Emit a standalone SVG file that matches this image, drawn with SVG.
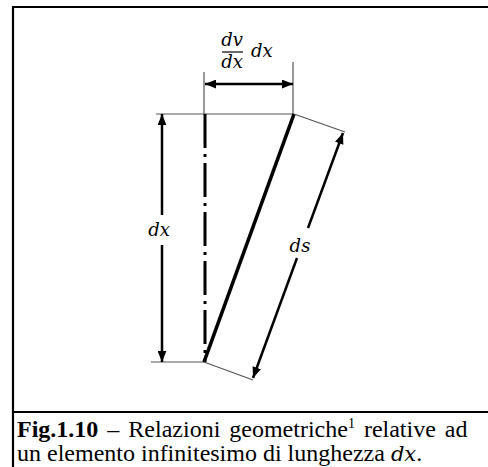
<svg xmlns="http://www.w3.org/2000/svg" width="488" height="467" viewBox="0 0 488 467">
<style>
.frame{stroke:#000;stroke-width:2.2;fill:none}
.thin{stroke:#555;stroke-width:1.2;fill:none}
.dim{stroke:#000;stroke-width:2.5;fill:none}
.axis{stroke:#000;stroke-width:3;stroke-dasharray:34 6 3 6;fill:none}
.bar{stroke:#000;stroke-width:3.6;fill:none}
.m{font-family:"DejaVu Serif",serif;font-style:italic;font-size:18px;fill:#000}
.cap{font-family:"Liberation Serif","Times New Roman",serif;font-size:24px;fill:#000}
</style>
<defs>
<marker id="ah" viewBox="0 0 10 8" refX="10" refY="4" markerWidth="11" markerHeight="9" markerUnits="userSpaceOnUse" orient="auto-start-reverse">
<path d="M0,0 L10,4 L0,8 z" fill="#000"/>
</marker>
</defs>
<rect width="488" height="467" fill="#fff"/>
<g id="frame">
<path class="frame" d="M13,467 V7 H488"/>
<path class="frame" d="M12,412 H488"/>
</g>
<g id="element">
<line class="thin" x1="156" y1="114" x2="294" y2="114"/>
<line class="thin" x1="151" y1="362" x2="205" y2="362"/>
<line class="axis" x1="205" y1="114" x2="205" y2="362"/>
<line class="bar" x1="294" y1="114" x2="204" y2="362"/>
</g>
<g id="connectors">
<line class="thin" x1="204" y1="72" x2="204" y2="114"/>
<line class="thin" x1="293" y1="62" x2="293" y2="114"/>
<line class="thin" x1="294" y1="114" x2="345" y2="132"/>
<line class="thin" x1="204" y1="362" x2="253" y2="380"/>
<line class="dim" x1="205" y1="84" x2="293" y2="84" marker-start="url(#ah)" marker-end="url(#ah)"/>
<line class="dim" x1="162" y1="215" x2="162" y2="114" marker-end="url(#ah)"/>
<line class="dim" x1="162" y1="245" x2="162" y2="362" marker-end="url(#ah)"/>
<line class="dim" x1="308" y1="228" x2="343" y2="133" marker-end="url(#ah)"/>
<line class="dim" x1="297" y1="258" x2="253" y2="378" marker-end="url(#ah)"/>
</g>
<g id="label-dvdx">
<text class="m" x="232" y="46" text-anchor="middle">dv</text>
<line x1="222" y1="52" x2="243" y2="52" stroke="#000" stroke-width="1.2"/>
<text class="m" x="232" y="68" text-anchor="middle">dx</text>
<text class="m" x="251" y="57">dx</text>
</g>
<g id="label-dx">
<text class="m" x="159" y="236" text-anchor="middle">dx</text>
</g>
<g id="label-ds">
<text class="m" x="300" y="252" text-anchor="middle">ds</text>
</g>
<g id="caption">
<text class="cap" x="17" y="437" word-spacing="3"><tspan font-weight="bold">Fig.1.10</tspan> – Relazioni geometriche<tspan font-size="14" dy="-9">1</tspan><tspan dy="9"> relative ad</tspan></text>
<text class="cap" x="17" y="461">un elemento infinitesimo di lunghezza <tspan font-family="DejaVu Serif, serif" font-style="italic" font-size="21">dx</tspan>.</text>
</g>
</svg>
